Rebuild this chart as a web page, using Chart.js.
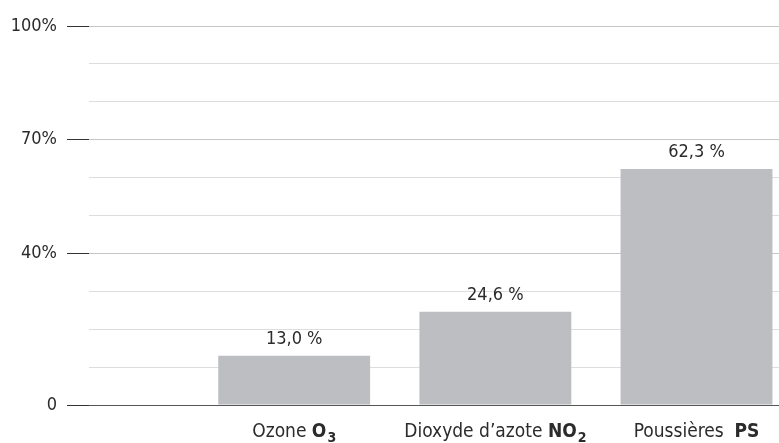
<!DOCTYPE html>
<html lang="fr">
<head>
<meta charset="utf-8">
<title>Polluants</title>
<script src="https://cdn.jsdelivr.net/npm/chart.js@4/dist/chart.umd.min.js"></script>
<style>
  html, body { margin: 0; padding: 0; background: #fff; }
  .wrap { position: relative; width: 779px; height: 443px; }
</style>
</head>
<body>
<div class="wrap"><canvas id="pollution-graph"></canvas></div>
<script>
//chart data
const categories = ["Ozone", "Dioxyde d\u2019azote", "Poussi\u00e8res "];
const formulas = ["O", "NO", "PS"];
const subscripts = ["3", "2", ""];
const values = [13.0, 24.6, 62.3];
const labeledTicks = [0, 40, 70, 100];

const FONT = '"Liberation Sans Narrow", "DejaVu Sans Condensed", "Open Sans", sans-serif';
const TEXT = "#2b2b2b";

function pct(v) {
  return v.toFixed(1).replace(".", ",") + " %";
}

//values above the bars
const valueLabels = {
  id: "valueLabels",
  afterDatasetsDraw(chart) {
    const ctx = chart.ctx;
    const meta = chart.getDatasetMeta(0);
    ctx.save();
    ctx.font = "18px " + FONT;
    ctx.fillStyle = TEXT;
    ctx.textAlign = "center";
    ctx.textBaseline = "alphabetic";
    meta.data.forEach((bar, i) => {
      ctx.fillText(pct(values[i]), bar.x, bar.y - 12);
    });
    ctx.restore();
  },
};

//category names with bold formula under the bars
const categoryLabels = {
  id: "categoryLabels",
  afterDraw(chart) {
    const ctx = chart.ctx;
    const meta = chart.getDatasetMeta(0);
    const y = chart.chartArea.bottom + 32;
    ctx.save();
    ctx.fillStyle = TEXT;
    ctx.textBaseline = "alphabetic";
    ctx.textAlign = "left";
    meta.data.forEach((bar, i) => {
      const name = categories[i] + " ";
      ctx.font = "19px " + FONT;
      const w1 = ctx.measureText(name).width;
      ctx.font = "bold 19px " + FONT;
      const w2 = ctx.measureText(formulas[i]).width;
      ctx.font = "bold 14px " + FONT;
      const w3 = subscripts[i] ? ctx.measureText(subscripts[i]).width + 1 : 0;
      let x = bar.x - (w1 + w2 + w3) / 2;
      ctx.font = "19px " + FONT;
      ctx.fillText(name, x, y);
      x += w1;
      ctx.font = "bold 19px " + FONT;
      ctx.fillText(formulas[i], x, y);
      x += w2;
      if (subscripts[i]) {
        ctx.font = "bold 14px " + FONT;
        ctx.fillText(subscripts[i], x + 1, y + 5);
      }
    });
    ctx.restore();
  },
};

//bar chart design
const dataBar = {
  datasets: [
    {
      data: values.map((v, i) => ({ x: i + 1, y: v })),
      backgroundColor: "#bdbec2",
      borderWidth: 0,
      barPercentage: 0.755,
      categoryPercentage: 1,
    },
  ],
};

//bar chart configuration
const configBar = {
  type: "bar",
  data: dataBar,
  options: {
    responsive: true,
    maintainAspectRatio: false,
    animation: false,
    layout: {
      padding: { top: 26, bottom: 38, left: 0, right: 0 },
    },
    scales: {
      x: {
        type: "linear",
        display: false,
        offset: false,
        grid: { offset: false },
        min: -0.02,
        max: 3.41,
        // one tick per bar so the bar width comes from the bar spacing
        afterBuildTicks: (scale) => {
          scale.ticks = values.map((v, i) => ({ value: i + 1 }));
        },
      },
      y: {
        min: 0,
        max: 100,
        afterFit: (scale) => {
          scale.width = 89;
        },
        border: { display: false },
        grid: {
          tickLength: 22,
          color: (c) => {
            const v = c.tick.value;
            if (v === 0) return "#555555";
            return labeledTicks.includes(v) ? "#c6c6c6" : "#dddddd";
          },
          tickColor: (c) =>
            labeledTicks.includes(c.tick.value) ? "#333333" : "rgba(0,0,0,0)",
        },
        ticks: {
          stepSize: 10,
          padding: 10,
          color: TEXT,
          font: { family: FONT, size: 18 },
          callback: (v) => {
            if (!labeledTicks.includes(v)) return "";
            return v === 0 ? "0" : v + "%";
          },
        },
      },
    },
    plugins: {
      legend: { display: false },
      title: { display: false },
      tooltip: { enabled: false },
    },
  },
  plugins: [valueLabels, categoryLabels],
};

// chart visualizing
const chartBar = new Chart(
  document.getElementById("pollution-graph"),
  configBar
);
</script>
</body>
</html>
